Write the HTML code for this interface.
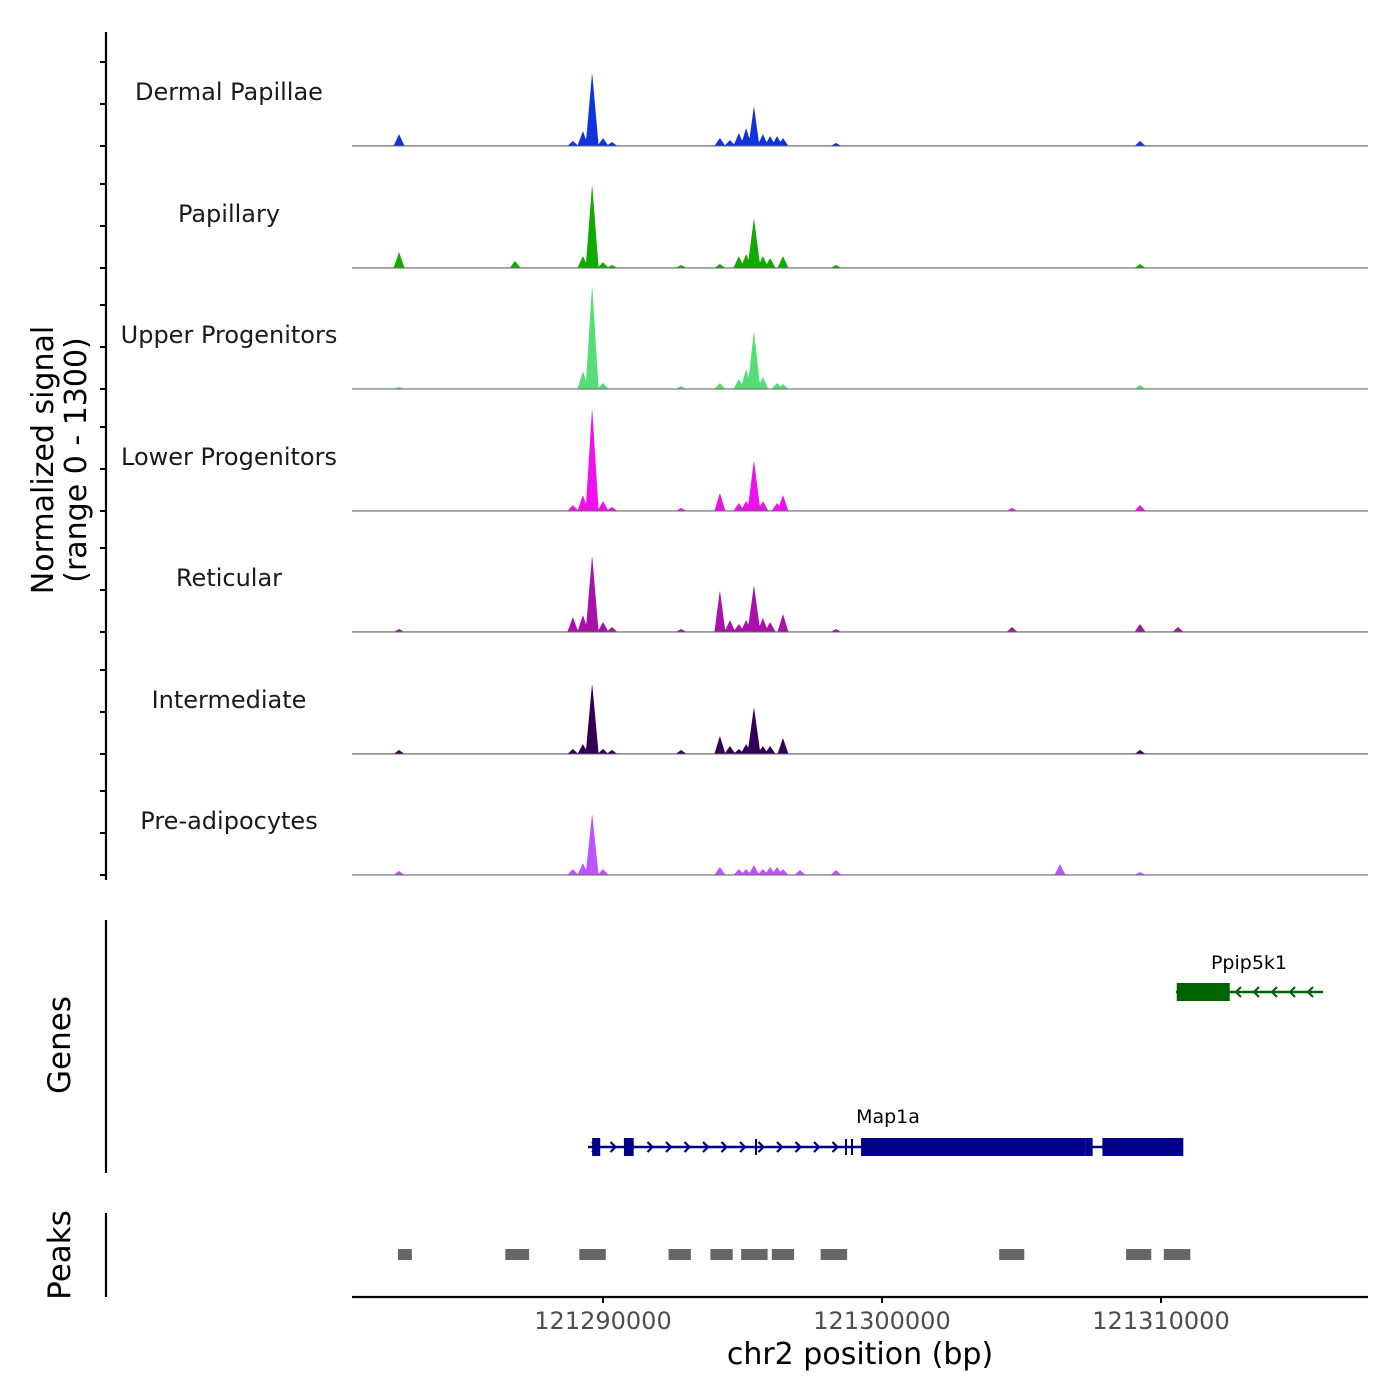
<!DOCTYPE html>
<html><head><meta charset="utf-8"><style>body{margin:0;background:#fff}svg{display:block;font-family:"DejaVu Sans","Liberation Sans",sans-serif}</style></head>
<body>
<svg id="c" width="1400" height="1400" viewBox="0 0 1400 1400"></svg>
<script>
const trackNames=["Dermal Papillae","Papillary","Upper Progenitors","Lower Progenitors","Reticular","Intermediate","Pre-adipocytes"];
const trackColors=["#1133dd","#11aa00","#55dd77","#ee11ee","#aa11aa","#330055","#bb55ff"];
// peak positions in kb relative to 121290000, values normalized signal
const dpPos=[-7.31,-1.08,-0.72,-0.39,0,0.32,4.19,4.55,4.87,5.13,5.41,5.73,5.99,6.24,6.45,8.35,19.25];
const dpVal=[128,54,160,792,86,43,86,64,139,193,428,128,107,107,86,32,54];
const papPos=[-7.31,-3.15,-0.72,-0.39,0,0.32,2.80,4.19,4.87,5.13,5.41,5.73,5.99,6.45,8.35,19.25];
const papVal=[171,75,128,900,64,32,32,43,128,150,535,128,107,128,32,43];
const upPos=[-7.31,-0.72,-0.39,0,2.80,4.19,4.87,5.13,5.41,5.73,6.24,6.45,19.25];
const upVal=[21,193,1124,64,32,64,107,214,621,128,64,54,43];
const lowPos=[-1.08,-0.72,-0.39,0,0.32,2.80,4.19,4.87,5.13,5.41,5.73,6.24,6.45,14.66,19.25];
const lowVal=[64,171,1113,107,43,32,193,86,107,546,107,86,171,32,64];
const retPos=[-7.31,-1.08,-0.72,-0.39,0,0.32,2.80,4.19,4.55,4.87,5.13,5.41,5.73,5.99,6.45,8.35,14.66,19.25,20.61];
const retVal=[32,160,182,824,107,54,32,450,128,86,128,503,150,107,193,32,54,86,54];
const intPos=[-7.31,-1.08,-0.72,-0.39,0,0.32,2.80,4.19,4.55,4.87,5.13,5.41,5.73,5.99,6.45,19.25];
const intVal=[43,54,107,760,54,43,43,193,86,54,107,503,86,86,171,43];
const prePos=[-7.31,-1.08,-0.72,-0.39,0,4.19,4.87,5.13,5.41,5.73,5.99,6.24,6.45,7.06,8.35,16.38,19.25];
const preVal=[43,64,128,664,64,86,64,64,107,64,86,86,64,54,54,118,32];
const allPos=[dpPos,papPos,upPos,lowPos,retPos,intPos,prePos];
const allVal=[dpVal,papVal,upVal,lowVal,retVal,intVal,preVal];
const xTicks=[121290000,121300000,121310000];
const xTickLabels=["121290000","121300000","121310000"];
const peakStart=[-7.35,-3.5,-0.85,2.35,3.85,4.95,6.05,7.8,14.2,18.75,20.1];
const peakEnd=[-6.85,-2.65,0.1,3.15,4.65,5.9,6.85,8.75,15.1,19.65,21.05];
const mapExonS=[-0.39,0.75,9.25,17.3,17.9];
const mapExonE=[-0.1,1.1,17.3,17.55,20.8];
const ppExonS=[20.6];const ppExonE=[22.5];

const NS='http://www.w3.org/2000/svg';const svg=document.getElementById('c');
function mk(t,a,p){const e=document.createElementNS(NS,t);for(const k in a)e.setAttribute(k,a[k]);(p||svg).appendChild(e);return e;}
const X=kb=>603+kb*27.9;
const Xbp=bp=>X((bp-121290000)/1000);
const TH=121.5,SCALE=TH/1300;
const baselines=[146,268,389,511,632,754,875];
let ax=mk('line',{x1:106,y1:32,x2:106,y2:880,stroke:'#000','stroke-width':2.2});

trackNames.forEach((n,i)=>{
  const b=baselines[i];
  const g=mk('g',{});
  [0,42,84].forEach(o=>mk('line',{x1:100,x2:106,y1:b-o,y2:b-o,stroke:'#000','stroke-width':2},g));
  const pos=allPos[i],val=allVal[i];
  let d='M352,'+b;
  for(let x=352;x<=1368;x+=0.5){
    let h=0.6;
    for(let k=0;k<pos.length;k++){const hw=val[k]>500?6.5:5.5;const dx=Math.abs(x-X(pos[k]));if(dx<hw)h=Math.max(h,val[k]*SCALE*(1-dx/hw));}
    d+=' L'+x+','+(b-h).toFixed(1);
  }
  d+=' L1368,'+b+' Z';
  const p=mk('path',{d:d,fill:trackColors[i]},g);
  
  mk('line',{x1:352,x2:1368,y1:b,y2:b,stroke:'#666','stroke-width':1},g);
  const t=mk('text',{x:229,y:b-46,'text-anchor':'middle','font-size':24,fill:'#1a1a1a'},g);t.textContent=n;
  
});
function txt(s,a,name){const t=mk('text',a);t.textContent=s;return t;}
const yt=mk('g',{transform:'translate(0,460) rotate(-90)'});
txt('Normalized signal',{x:0,y:53,'text-anchor':'middle','font-size':30},'y-title-line1');yt.appendChild(svg.lastChild);
txt('(range 0 - 1300)',{x:0,y:86,'text-anchor':'middle','font-size':30},'y-title-line2');yt.appendChild(svg.lastChild);
let ga=mk('line',{x1:106,y1:920,x2:106,y2:1173,stroke:'#000','stroke-width':2.2});
const gg=mk('g',{transform:'translate(0,1045) rotate(-90)'});
txt('Genes',{x:0,y:70,'text-anchor':'middle','font-size':31},'genes-title');gg.appendChild(svg.lastChild);
const map=mk('g',{});
mk('line',{x1:588,x2:1183,y1:1147,y2:1147,stroke:'#00008b','stroke-width':2.5},map);
for(let x=592;x<845;x+=18.5)mk('path',{d:`M${x},1142 L${x+5},1147 L${x},1152`,stroke:'#00008b','stroke-width':2.2,fill:'none'},map);
[756,846,852].forEach(x=>mk('line',{x1:x,x2:x,y1:1139,y2:1155,stroke:'#00008b','stroke-width':2},map));
mapExonS.forEach((s,k)=>mk('rect',{x:X(s),y:1138,width:X(mapExonE[k])-X(s),height:18,fill:'#00008b'},map));
txt('Map1a',{x:888,y:1123,'text-anchor':'middle','font-size':19},'gene-label-map1a');
const pp=mk('g',{});
mk('line',{x1:1176,x2:1323,y1:992,y2:992,stroke:'#006400','stroke-width':2.5},pp);
ppExonS.forEach((s,k)=>mk('rect',{x:X(s)-1,y:983,width:X(ppExonE[k])-X(s),height:18,fill:'#006400'},pp));
for(let x=1236;x<1320;x+=18)mk('path',{d:`M${x+5},987 L${x},992 L${x+5},997`,stroke:'#006400','stroke-width':2.2,fill:'none'},pp);
txt('Ppip5k1',{x:1249,y:969,'text-anchor':'middle','font-size':19},'gene-label-ppip5k1');
let pa=mk('line',{x1:106,y1:1213,x2:106,y2:1297,stroke:'#000','stroke-width':2.2});
const pg=mk('g',{transform:'translate(0,1255) rotate(-90)'});
txt('Peaks',{x:0,y:70,'text-anchor':'middle','font-size':31},'peaks-title');pg.appendChild(svg.lastChild);
peakStart.forEach((s,k)=>{const r=mk('rect',{x:X(s),y:1249,width:X(peakEnd[k])-X(s),height:11,fill:'#666'});});
let xa=mk('line',{x1:352,x2:1368,y1:1297,y2:1297,stroke:'#000','stroke-width':2.2});
xTicks.forEach((v,k)=>{mk('line',{x1:Xbp(v),x2:Xbp(v),y1:1297,y2:1303,stroke:'#000','stroke-width':2});
  txt(xTickLabels[k],{x:Xbp(v),y:1329,'text-anchor':'middle','font-size':24,fill:'#4d4d4d'},'x-tick-label');});
txt('chr2 position (bp)',{x:860,y:1364,'text-anchor':'middle','font-size':30},'x-axis-title');
</script>
</body></html>
